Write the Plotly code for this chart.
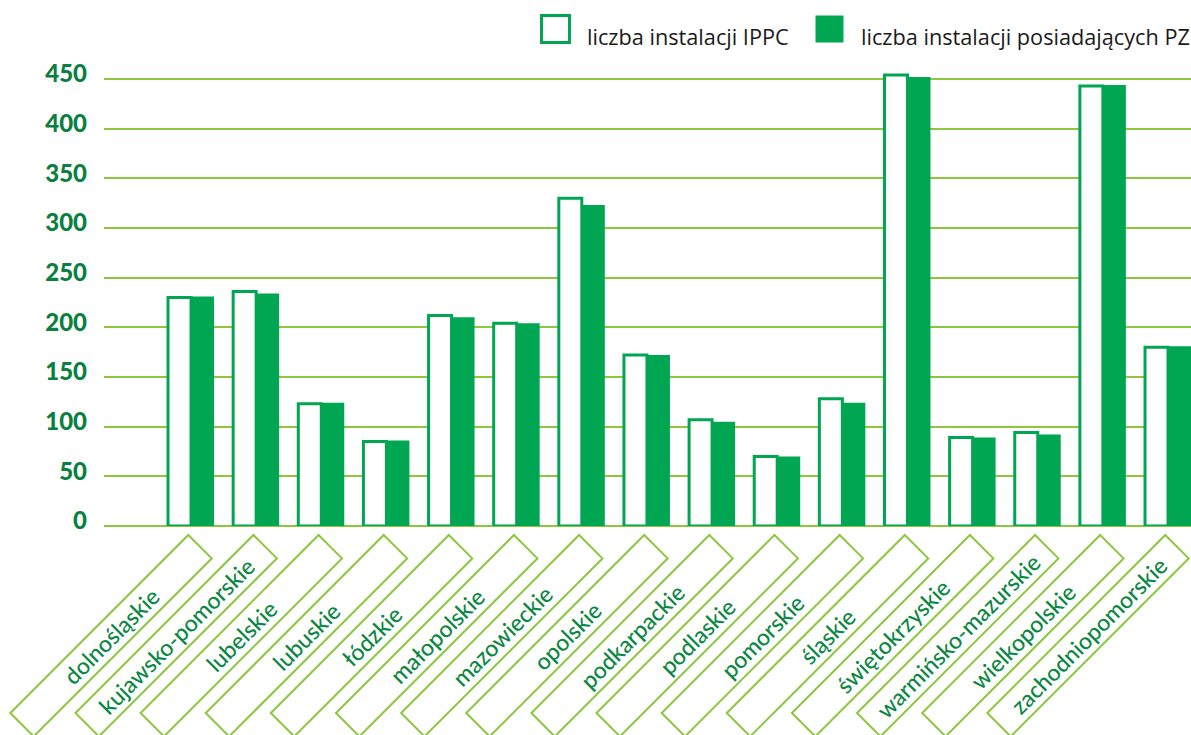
import plotly.graph_objects as go

# Voivodeships and installation counts
categories = [
    "dolnośląskie", "kujawsko-pomorskie", "lubelskie", "lubuskie", "łódzkie",
    "małopolskie", "mazowieckie", "opolskie", "podkarpackie", "podlaskie",
    "pomorskie", "śląskie", "świętokrzyskie", "warmińsko-mazurskie",
    "wielkopolskie", "zachodniopomorskie",
]
ippc_installations = [230, 236, 123, 85, 212, 204, 330, 172, 107, 70, 128, 454, 89, 94, 443, 180]
pz_installations = [231, 234, 124, 86, 210, 204, 323, 172, 105, 70, 124, 452, 89, 92, 444, 181]
series_names = ["liczba instalacji IPPC", "liczba instalacji posiadających PZ"]
y_ticks = [0, 50, 100, 150, 200, 250, 300, 350, 400, 450]

GREEN = "#00A651"
DARK_GREEN = "#0A8743"
LIME = "#8DC63F"

# Figure geometry (pixels)
FIG_W, FIG_H = 1191, 735
M_L, M_R, M_T, M_B = 104, 0, 69, 209
PLOT_W = FIG_W - M_L - M_R
PLOT_H = FIG_H - M_T - M_B
X_RANGE = [-1.336, 15.353]
Y_RANGE = [0, 460]


def paper_x(px):
    return (px - M_L) / PLOT_W


def paper_y(py):
    return (M_T + PLOT_H - py) / PLOT_H


def category_px(i):
    return M_L + (i - X_RANGE[0]) / (X_RANGE[1] - X_RANGE[0]) * PLOT_W


fig = go.Figure()
fig.add_trace(go.Bar(
    x=categories, y=ippc_installations, name=series_names[0],
    marker=dict(color="white", line=dict(color=GREEN, width=3)),
    showlegend=False,
))
fig.add_trace(go.Bar(
    x=categories, y=pz_installations, name=series_names[1],
    marker=dict(color=GREEN, line=dict(color=GREEN, width=0)),
    showlegend=False,
))

shapes = []
annotations = []

# Diagonal label boxes under each category
BOX_TOP_Y = 535        # y of the upper corner
BOX_DX = -2.7          # upper corner offset from category centre
BOX_SHORT = 23.4       # short side projection
BOX_LONG = 178         # long side projection
for i, name in enumerate(categories):
    cx = category_px(i)
    top = (cx + BOX_DX, BOX_TOP_Y)
    right = (top[0] + BOX_SHORT, top[1] + BOX_SHORT)
    bottom = (right[0] - BOX_LONG, right[1] + BOX_LONG)
    left = (top[0] - BOX_LONG, top[1] + BOX_LONG)
    pts = [top, right, bottom, left]
    path = "M " + " L ".join(f"{paper_x(x):.5f},{paper_y(y):.5f}" for x, y in pts) + " Z"
    shapes.append(dict(type="path", xref="paper", yref="paper", path=path,
                       line=dict(color=LIME, width=2), fillcolor="rgba(0,0,0,0)"))
    ccx = (top[0] + bottom[0]) / 2
    ccy = (top[1] + bottom[1]) / 2
    annotations.append(dict(
        x=paper_x(ccx), y=paper_y(ccy), xref="paper", yref="paper",
        text=name, showarrow=False, textangle=-45,
        xanchor="center", yanchor="middle",
        font=dict(family="Lato", size=23, color=DARK_GREEN, weight=500),
    ))

# Legend drawn as squares with labels
legend_items = [
    (540, 585, dict(fillcolor="white", line=dict(color=GREEN, width=3))),
    (814, 859, dict(fillcolor=GREEN, line=dict(color=GREEN, width=0))),
]
for (sq_x, tx, style), label in zip(legend_items, series_names):
    shapes.append(dict(type="rect", xref="paper", yref="paper",
                       x0=paper_x(sq_x + 1.5), x1=paper_x(sq_x + 29.5),
                       y0=paper_y(15.5), y1=paper_y(42.5), **style))
    annotations.append(dict(
        x=paper_x(tx), y=paper_y(37), xref="paper", yref="paper",
        text=label, showarrow=False, xanchor="left", yanchor="middle",
        font=dict(family="Open Sans", size=21.7, color="#1a1a1a"),
    ))

fig.update_layout(
    width=FIG_W, height=FIG_H,
    margin=dict(l=M_L, r=M_R, t=M_T, b=M_B, pad=0),
    paper_bgcolor="white", plot_bgcolor="white",
    barmode="group", bargap=0.294, bargroupgap=0,
    shapes=shapes, annotations=annotations,
    xaxis=dict(range=X_RANGE, showticklabels=False, showgrid=False,
               zeroline=False, showline=False, ticks=""),
    yaxis=dict(range=Y_RANGE, tickvals=y_ticks, showgrid=True,
               gridcolor=LIME, gridwidth=2, zeroline=True, zerolinecolor=LIME,
               zerolinewidth=2, showline=False, ticks="",
               ticklabelstandoff=16, ticklabelshift=-5,
               tickfont=dict(family="Lato", size=24, color="#0A7F3F",
                             weight=900)),
)

fig.write_html("out.html")
